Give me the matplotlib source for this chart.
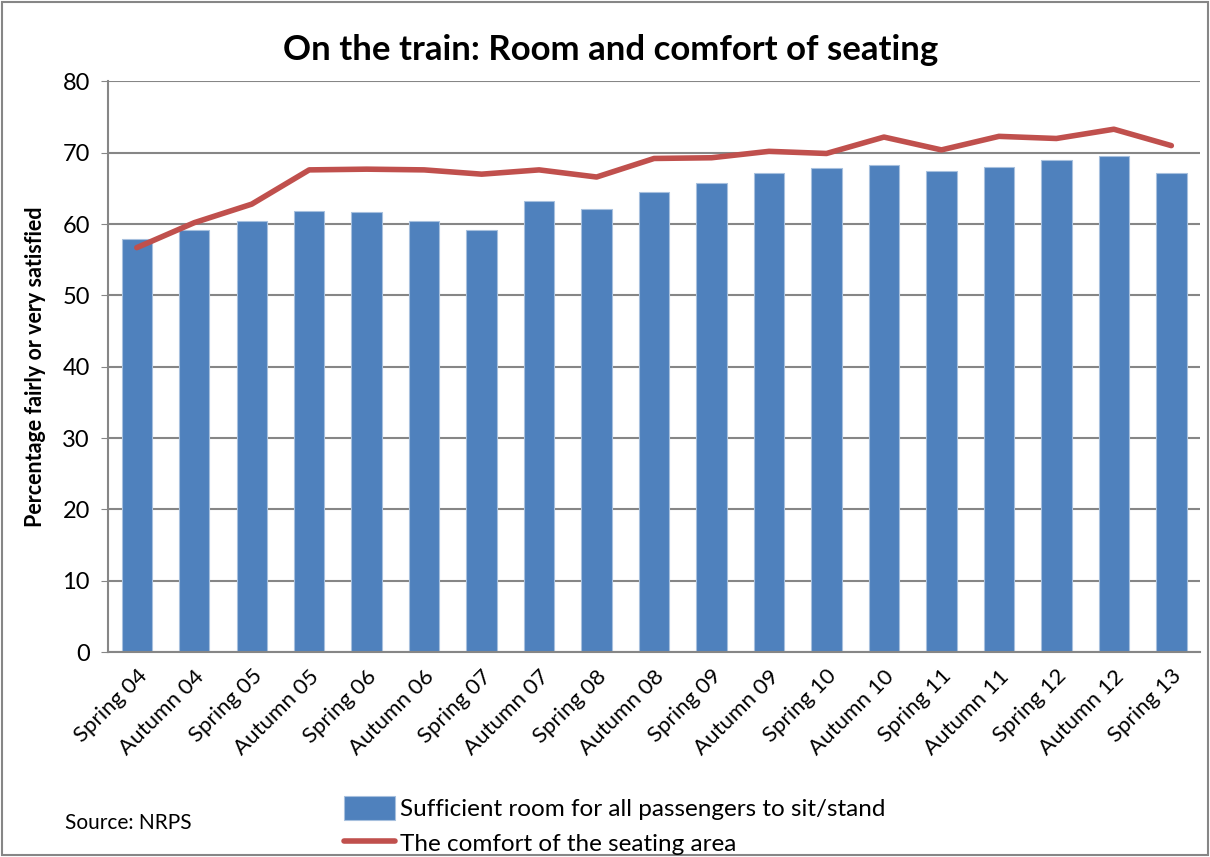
import matplotlib
matplotlib.use("Agg")
import matplotlib.pyplot as plt
from matplotlib.patches import Rectangle

plt.rcParams['font.family'] = ['Lato', 'DejaVu Sans']

periods = ["Spring 04", "Autumn 04", "Spring 05", "Autumn 05", "Spring 06",
           "Autumn 06", "Spring 07", "Autumn 07", "Spring 08", "Autumn 08",
           "Spring 09", "Autumn 09", "Spring 10", "Autumn 10", "Spring 11",
           "Autumn 11", "Spring 12", "Autumn 12", "Spring 13"]
room = [57.9, 59.2, 60.5, 61.8, 61.7, 60.5, 59.2, 63.3, 62.1, 64.5,
        65.7, 67.2, 67.8, 68.3, 67.4, 68.0, 69.0, 69.5, 67.1]
comfort = [56.7, 60.2, 62.8, 67.6, 67.7, 67.6, 67.0, 67.6, 66.6, 69.2,
           69.3, 70.2, 69.9, 72.2, 70.4, 72.3, 72.0, 73.3, 71.0]

blue = "#4f81bd"
red = "#c0504d"
grid_col = "#868686"

fig = plt.figure(figsize=(12.1, 8.57), dpi=100)
ax = fig.add_axes([0.0893, 0.239, 0.9025, 0.666])

x = range(len(periods))
bars = ax.bar(x, room, width=0.53, color=blue, edgecolor="#a7c0de", linewidth=0.8,
              label="Sufficient room for all passengers to sit/stand", zorder=2)
line, = ax.plot(x, comfort, color=red, linewidth=4, solid_capstyle="round",
                label="The comfort of the seating area", zorder=3)

ax.set_xlim(-0.5, len(periods) - 0.5)
ax.set_ylim(0, 80)
ax.set_yticks(range(0, 81, 10))
ax.yaxis.grid(True, color=grid_col, linewidth=1.5, zorder=0)
ax.set_axisbelow(True)
for side in ("top", "right"):
    ax.spines[side].set_visible(False)
for side in ("left", "bottom"):
    ax.spines[side].set_color(grid_col)
    ax.spines[side].set_linewidth(1.5)
ax.tick_params(axis="y", labelsize=17, length=5, color=grid_col, pad=8)
ax.tick_params(axis="x", length=0, pad=10)
ax.set_xticks(list(x))
ax.set_xticklabels(periods, rotation=45, ha="right", rotation_mode="anchor",
                   fontsize=16)

ax.set_ylabel("Percentage fairly or very satisfied", fontsize=15.5,
              fontweight="bold", labelpad=12)
fig.text(0.505, 0.942, "On the train: Room and comfort of seating",
         ha="center", va="center", fontsize=25, fontweight="bold")

fig.legend(handles=[bars, line], loc="upper left", bbox_to_anchor=(0.276, 0.082),
           frameon=False, fontsize=17.5, handlelength=2.1, handleheight=1.1,
           handletextpad=0.2, labelspacing=0.45, borderaxespad=0)
fig.text(0.054, 0.04, "Source: NRPS", fontsize=15, va="center")

fig.patches.append(Rectangle((0.002, 0.002), 0.996, 0.996, transform=fig.transFigure,
                             fill=False, edgecolor=grid_col, linewidth=1.5))

fig.savefig("out.png", dpi=100)
